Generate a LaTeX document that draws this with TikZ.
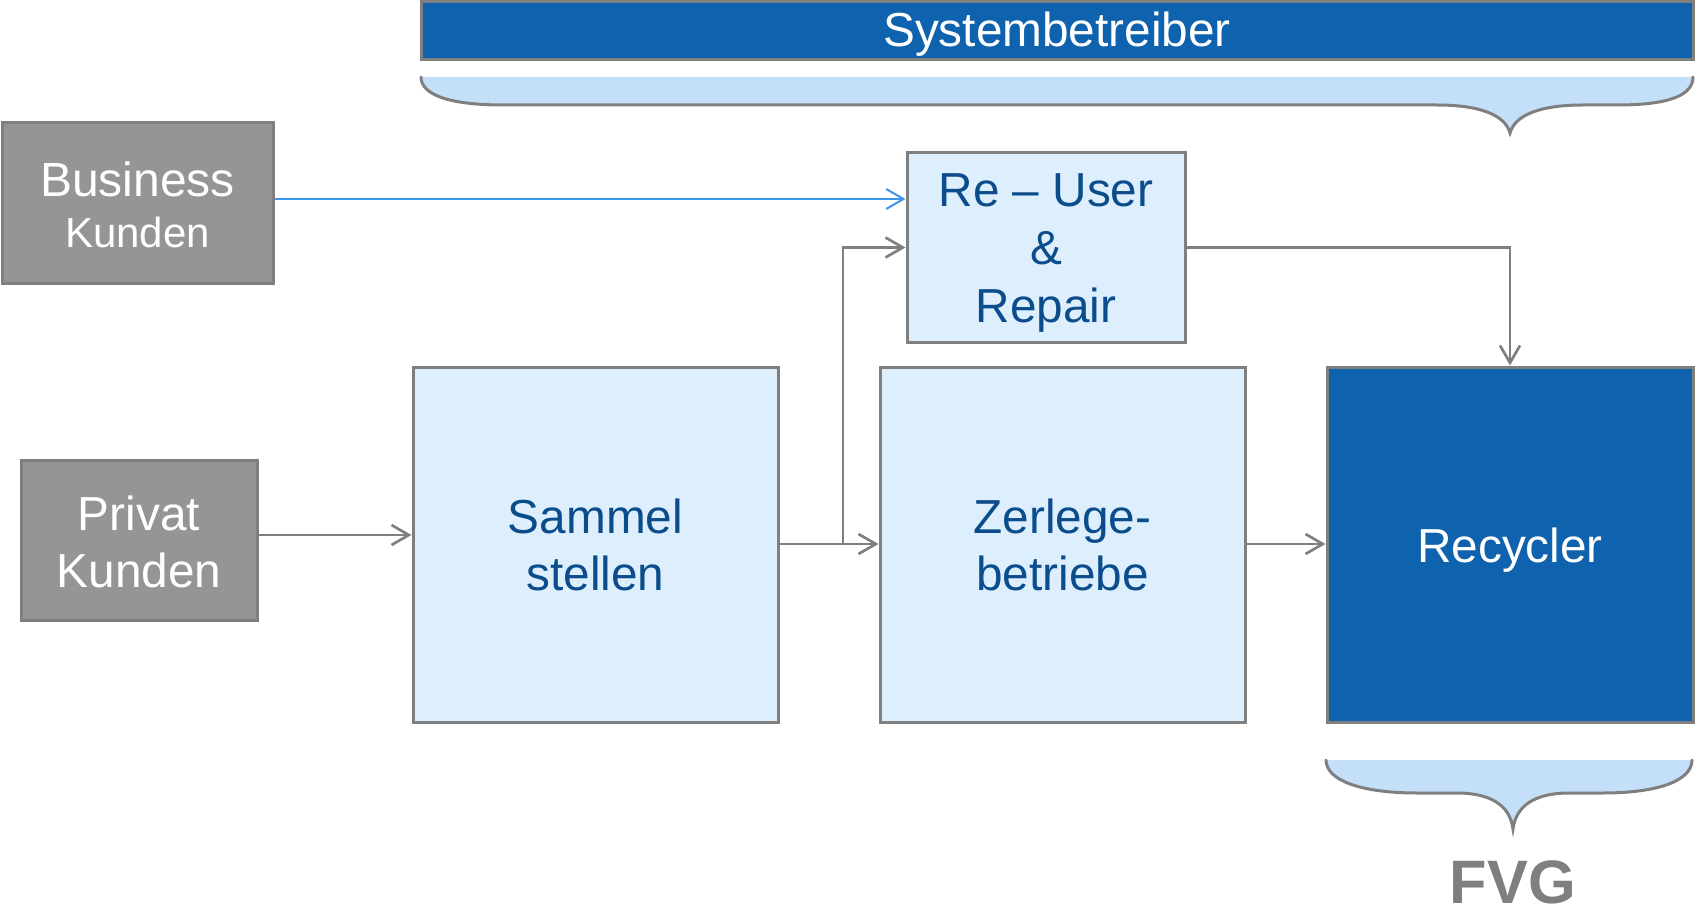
\documentclass[tikz,border=0pt]{standalone}
\usepackage{fontspec}
\setmainfont{Liberation Sans}
\usetikzlibrary{arrows.meta}
\definecolor{dblue}{HTML}{0E62AE}
\definecolor{lblue}{HTML}{DDEEFC}
\definecolor{brblue}{HTML}{C3E0F8}
\definecolor{bgray}{HTML}{7F7F7F}
\definecolor{fgray}{HTML}{959595}
\definecolor{tblue}{HTML}{0B4C8C}
\definecolor{ablue}{HTML}{3A96E8}
\tikzset{
  box/.style={draw=bgray, line width=2.25pt, inner sep=0pt},
  lightbox/.style={box, fill=lblue},
  darkbox/.style={box, fill=dblue},
  graybox/.style={box, fill=fgray},
  lbl/.style={inner sep=0pt, align=center, font=\fontsize{35.8}{43}\selectfont},
  ltxt/.style={lbl, text=tblue},
  wtxt/.style={lbl, text=white},
  arr/.style={draw=bgray, line width=2pt, -{Straight Barb[length=13pt,width=15pt,line width=2pt]}},
  barr/.style={draw=ablue, line width=1.5pt, -{Straight Barb[length=13pt,width=15pt,line width=1.5pt]}},
  brace/.style={fill=brblue},
  braceline/.style={draw=bgray, line width=2.25pt, line cap=round}
}
\begin{document}
\begin{tikzpicture}[x=0.75pt,y=-0.75pt]
\useasboundingbox (0,0) rectangle (1699,909);

\node[darkbox, minimum width=954pt, minimum height=43.5pt] (sys) at (1057,31) {};
\node[graybox, minimum width=203.25pt, minimum height=120.75pt] (bus) at (137.5,203.5) {};
\node[graybox, minimum width=177pt, minimum height=120pt] (pri) at (139,540) {};
\node[lightbox, minimum width=208.5pt, minimum height=141.75pt] (ru) at (1046,247.5) {};
\node[lightbox, minimum width=273.75pt, minimum height=266.25pt] (sam) at (595.5,544.5) {};
\node[lightbox, minimum width=273.75pt, minimum height=266.25pt] (zer) at (1062.5,544.5) {};
\node[darkbox, minimum width=274.5pt, minimum height=266.25pt] (rec) at (1510,544.5) {};

% texts
\node[wtxt, anchor=base] (syst) at (1057,47) {Systembetreiber};
\node[wtxt] (bust) at (137.5,204.5) {{\fontsize{36}{40}\selectfont Business}\\[-4.5pt]{\fontsize{31.5}{40}\selectfont Kunden}};
\node[wtxt] (prit) at (139,542) {Privat\\Kunden};
\node[ltxt, font=\fontsize{35.8}{43.5}\selectfont] (rut) at (1046,253) {Re -- User\\\&\\Repair};
\node[ltxt] (samt) at (595.5,545) {Sammel\\stellen};
\node[ltxt] (zert) at (1062.5,545) {Zerlege-\\betriebe};
\node[wtxt, anchor=base] (rect) at (1510,562) {Recycler};

% top brace
\fill[brace] (421,77) .. controls (421,95) and (450,105) .. (503,105)
  -- (1437,105) .. controls (1480,105) and (1505,115) .. (1510,133)
  .. controls (1515,115) and (1540,105) .. (1583,105)
  -- (1617,105) .. controls (1670,105) and (1693,95) .. (1693,77) -- cycle;
\draw[braceline] (421,77) .. controls (421,95) and (450,105) .. (503,105)
  -- (1437,105) .. controls (1480,105) and (1505,115) .. (1510,133)
  .. controls (1515,115) and (1540,105) .. (1583,105)
  -- (1617,105) .. controls (1670,105) and (1693,95) .. (1693,77);

% bottom brace
\fill[brace] (1326,760) .. controls (1326,780) and (1360,793) .. (1417,793)
  -- (1457,793) .. controls (1490,793) and (1510,805) .. (1513,829)
  .. controls (1516,805) and (1536,793) .. (1569,793)
  -- (1603,793) .. controls (1660,793) and (1692,780) .. (1692,760) -- cycle;
\draw[braceline] (1326,760) .. controls (1326,780) and (1360,793) .. (1417,793)
  -- (1457,793) .. controls (1490,793) and (1510,805) .. (1513,829)
  .. controls (1516,805) and (1536,793) .. (1569,793)
  -- (1603,793) .. controls (1660,793) and (1692,780) .. (1692,760);

\node[anchor=base, text=bgray, font=\fontsize{46}{50}\selectfont\bfseries, inner sep=0pt] (fvg) at (1513,903) {FVG};

% connectors
\coordinate (br) at (843,544);
\draw[barr] (bus.east |- 0,199) -- (ru.west |- 0,199);
\draw[arr] (pri.east |- 0,535) -- (sam.west |- 0,535);
\draw[arr] (sam.east |- 0,544) -- (zer.west |- 0,544);
\draw[arr] (br) |- (ru.west);
\draw[arr] (zer.east |- 0,544) -- (rec.west |- 0,544);
\draw[arr] (ru.east) -| (rec.north);
\end{tikzpicture}
\end{document}
